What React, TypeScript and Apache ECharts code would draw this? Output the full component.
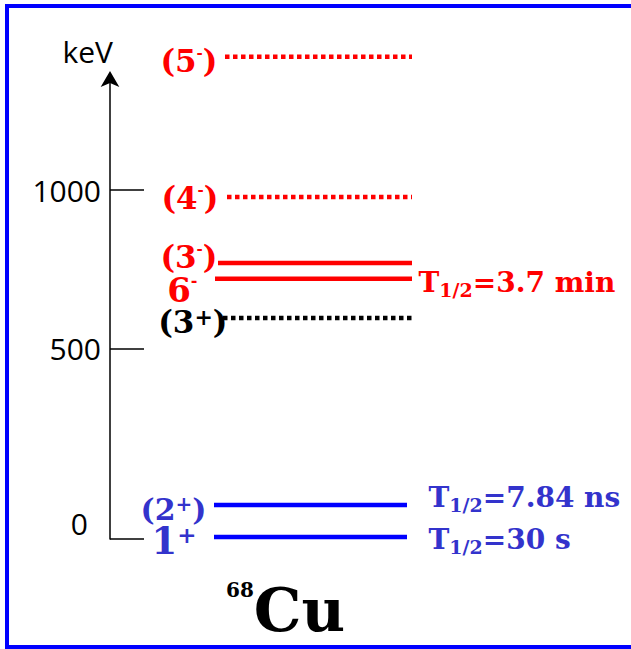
import React, { useEffect, useRef } from 'react';
import * as echarts from 'echarts';

// ---- data (schematic level scheme of 68Cu) ----
const SPIN_BASE = ['5', '4', '3', '6', '3', '2', '1'];
const SPIN_PARITY = ['-', '-', '-', '-', '+', '+', '+'];
const SPIN_TENTATIVE = [true, true, true, false, true, true, false];
const LEVEL_ENERGY = [1420, 978, 770, 720, 597, 7, -94]; // keV, as positioned on the axis
const LEVEL_KIND = ['dotted', 'dotted', 'solid', 'solid', 'dotted', 'solid', 'solid'];
const HALF_LIFE = ['', '', '', '3.7 min', '', '7.84 ns', '30 s'];
const TICK_VALUES = [-100, 500, 1000];
const TICK_LABELS = ['0', '500', '1000'];
const AXIS_NAME = 'keV';
const NUCLIDE_MASS = '68';
const NUCLIDE_SYMBOL = 'Cu';

// ---- layout / style ----
const AXIS_MIN = -100;
const AXIS_MAX = 1350;
const LINE_START = [115, 117, 108, 105, 113, 104, 104];
const LINE_END = [302, 302, 302, 302, 302, 297, 297];
const LINE_COLOR = ['#ff0000', '#ff0000', '#ff0000', '#ff0000', '#000000', '#0000ff', '#0000ff'];
const TEXT_COLOR = ['#ff0000', '#ff0000', '#ff0000', '#ff0000', '#000000', '#3333cc', '#3333cc'];
const SPIN_SIZE = [31, 31, 31, 34, 31, 30, 37];
const SUP_SIZE = [15, 15, 15, 16, 22, 20, 23];
const SPIN_DIST = [7, 8, 0, 17, -5, 7, 17];
const SPIN_DY = [4, 1, -6, 11, 4, 4, 4];
const HL_DIST = [0, 0, 0, 6, 0, 21, 21];
const HL_DY = [0, 0, 0, 4, 0, -8, 2];

const SERIF = '"DejaVu Serif", serif';
const SANS = '"Open Sans", "DejaVu Sans", sans-serif';

function spinText(i: number) {
  const core = `{m|${SPIN_BASE[i]}}{s|${SPIN_PARITY[i]}}`;
  return SPIN_TENTATIVE[i] ? `{m|(}${core}{m|)}` : core;
}

export default function App() {
  const ref = useRef<HTMLDivElement>(null);

  useEffect(() => {
    if (!ref.current) return;
    const chart = echarts.init(ref.current, undefined, { renderer: 'svg' });

    const series = LEVEL_ENERGY.map((e, i) => {
      const color = TEXT_COLOR[i];
      const hl = HALF_LIFE[i];
      return {
        type: 'line',
        clip: false,
        silent: true,
        symbol: 'circle',
        symbolSize: 1,
        itemStyle: { color: 'rgba(0,0,0,0)' },
        lineStyle: {
          color: LINE_COLOR[i],
          width: 4.5,
          type: LEVEL_KIND[i] === 'dotted' ? [4.5, 3.5] : 'solid',
          cap: 'butt',
        },
        data: [
          {
            value: [LINE_START[i], e],
            label: {
              show: true,
              position: 'left',
              distance: SPIN_DIST[i],
              offset: [0, SPIN_DY[i]],
              formatter: spinText(i),
              rich: {
                m: { fontFamily: SERIF, fontWeight: 'bold', fontSize: SPIN_SIZE[i], color },
                s: { fontFamily: SERIF, fontWeight: 'bold', fontSize: SUP_SIZE[i], color, verticalAlign: 'top' },
              },
            },
          },
          {
            value: [LINE_END[i], e],
            label: {
              show: hl !== '',
              position: 'right',
              distance: HL_DIST[i],
              offset: [0, HL_DY[i]],
              formatter: `{t|T}{u|1/2}{t|=${hl}}`,
              rich: {
                t: { fontFamily: SERIF, fontWeight: 'bold', fontSize: 28, lineHeight: 34, color },
                u: { fontFamily: SERIF, fontWeight: 'bold', fontSize: 19, color, verticalAlign: 'bottom' },
              },
            },
          },
        ],
      };
    });

    chart.setOption({
      animation: false,
      backgroundColor: '#ffffff',
      title: {
        text: `{a|${NUCLIDE_MASS}}{b|${NUCLIDE_SYMBOL}}`,
        left: 226,
        top: 580,
        padding: 0,
        textStyle: {
          rich: {
            a: { fontFamily: SERIF, fontWeight: 'bold', fontSize: 20, color: '#000', verticalAlign: 'top' },
            b: { fontFamily: SERIF, fontWeight: 'bold', fontSize: 60, color: '#000' },
          },
        },
      },
      grid: { left: 110, top: 79, width: 302, height: 460 },
      xAxis: { type: 'value', min: 0, max: 302, show: false },
      yAxis: {
        type: 'value',
        min: AXIS_MIN,
        max: AXIS_MAX,
        name: AXIS_NAME,
        nameLocation: 'end',
        nameGap: 13,
        nameTextStyle: { fontFamily: SANS, fontSize: 30, color: '#000', align: 'right', verticalAlign: 'bottom', padding: [0, -3, 0, 0] },
        axisLine: {
          show: true,
          symbol: ['none', 'arrow'],
          symbolSize: [14, 16],
          symbolOffset: [0, 8],
          lineStyle: { color: '#000', width: 1.5 },
        },
        axisTick: {
          show: true,
          inside: true,
          length: 34,
          customValues: TICK_VALUES,
          lineStyle: { color: '#000', width: 1.5 },
        },
        axisLabel: {
          show: true,
          customValues: TICK_VALUES,
          margin: 9,
          fontFamily: SANS,
          fontSize: 30,
          color: '#000',
          formatter: (v: number) => {
            const idx = TICK_VALUES.indexOf(v);
            const txt = idx >= 0 ? TICK_LABELS[idx] : '';
            return idx === 0 ? `{z|${txt}}` : txt;
          },
          rich: {
            z: { fontFamily: SANS, fontSize: 30, color: '#000', padding: [0, 13, 32, 0] },
          },
        },
        splitLine: { show: false },
      },
      graphic: [
        {
          type: 'polyline',
          shape: { points: [[640, 6], [7, 6], [7, 647], [640, 647]] },
          style: { fill: 'none', stroke: '#0000ff', lineWidth: 4 },
          silent: true,
          z: 100,
        },
      ],
      series,
    });

    return () => chart.dispose();
  }, []);

  return (
    <div
      ref={ref}
      style={{ position: 'fixed', left: 0, top: 0, width: 631, height: 649, background: '#fff' }}
    />
  );
}
